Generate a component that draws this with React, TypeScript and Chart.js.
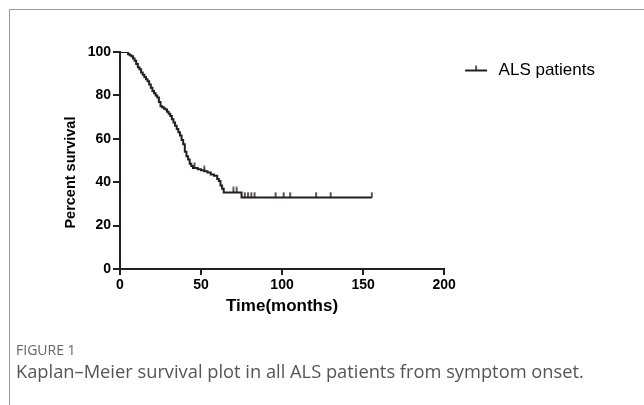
import React, { useEffect, useRef } from "react";
import { Chart, registerables } from "chart.js";

Chart.register(...registerables);

// Kaplan–Meier step curve: event times (months) and survival after each event (%)
const eventTimes = [0, 5, 6, 7, 8, 9, 10, 11, 12, 13, 14, 15, 16, 17, 18, 19, 20, 21, 22, 23, 24, 25, 26, 27, 28, 29, 30, 31, 32, 33, 34, 35, 36, 37, 38, 39, 40, 41, 42, 43, 44, 45, 48, 50, 52, 54, 56, 58, 60, 61, 62, 63, 64, 75, 155.4];
const survivalPct = [100, 99, 98.5, 98, 97, 96, 94.5, 93, 92, 90.5, 89.5, 88.5, 87.5, 86.5, 85, 83.5, 82, 81, 80, 79, 77, 75, 74.5, 74, 73.5, 72.5, 71.5, 70.5, 69, 67.5, 66, 64.5, 63, 61.5, 59.5, 57.5, 54, 52, 50.5, 48.5, 47.5, 46.5, 46, 45.5, 45, 44.5, 43.5, 43, 41.5, 40.5, 38.5, 37, 35.3, 32.9, 32.9];

// Censored observations
const censorTimes = [46, 52, 70, 72, 77, 79, 81, 83, 96, 101, 105, 121, 130, 155.4];
const censorPct = [46.5, 45, 35.3, 35.3, 32.9, 32.9, 32.9, 32.9, 32.9, 32.9, 32.9, 32.9, 32.9, 32.9];

const xTicks = [0, 50, 100, 150, 200];
const yTicks = [0, 20, 40, 60, 80, 100];
const seriesLabel = "ALS patients";
const xTitle = "Time(months)";
const yTitle = "Percent survival";

const INK = "#231f20";
const FONT = "'Liberation Sans', Arial, Helvetica, sans-serif";

function makeTickImage(): HTMLCanvasElement {
  const c = document.createElement("canvas");
  c.width = 4;
  c.height = 12;
  const g = c.getContext("2d")!;
  g.strokeStyle = INK;
  g.lineWidth = 1.5;
  g.beginPath();
  g.moveTo(2, 0.5);
  g.lineTo(2, 6);
  g.stroke();
  return c;
}

function makeLegendImage(): HTMLCanvasElement {
  const c = document.createElement("canvas");
  c.width = 36;
  c.height = 14;
  const g = c.getContext("2d")!;
  g.strokeStyle = INK;
  g.lineWidth = 2;
  g.beginPath();
  g.moveTo(11, 7);
  g.lineTo(33, 7);
  g.stroke();
  g.lineWidth = 1.5;
  g.beginPath();
  g.moveTo(22, 2);
  g.lineTo(22, 7);
  g.stroke();
  return c;
}

export default function App() {
  const ref = useRef<HTMLCanvasElement | null>(null);

  useEffect(() => {
    if (!ref.current) return;
    const tickImg = makeTickImage();
    const legendImg = makeLegendImage();
    const chart = new Chart(ref.current, {
      type: "line",
      data: {
        datasets: [
          {
            label: seriesLabel,
            data: eventTimes.map((t, i) => ({ x: t, y: survivalPct[i] })),
            stepped: true,
            borderColor: INK,
            borderWidth: 2,
            pointRadius: 0,
            fill: false,
          },
          {
            label: "censored",
            data: censorTimes.map((t, i) => ({ x: t, y: censorPct[i] })),
            showLine: false,
            pointStyle: tickImg as any,
            pointRadius: 3,
          },
        ],
      },
      options: {
        animation: false,
        responsive: false,
        layout: { padding: { left: 58, top: 52, right: 39, bottom: 9 } },
        plugins: {
          tooltip: { enabled: false },
          legend: {
            position: "right",
            align: "start",
            maxWidth: 220,
            labels: {
              usePointStyle: true,
              pointStyleWidth: 36,
              padding: 10,
              color: "#000",
              font: { family: FONT, size: 17 },
              generateLabels: () => [
                {
                  text: seriesLabel,
                  pointStyle: legendImg as any,
                  fillStyle: "rgba(0,0,0,0)",
                  strokeStyle: "rgba(0,0,0,0)",
                  lineWidth: 0,
                  datasetIndex: 0,
                  hidden: false,
                } as any,
              ],
            },
          },
        },
        scales: {
          x: {
            type: "linear",
            min: 0,
            max: 200,
            afterFit: (s: any) => {
              s.height = 52;
            },
            afterBuildTicks: (s: any) => {
              s.ticks = xTicks.map((v) => ({ value: v }));
            },
            ticks: {
              color: "#000",
              padding: 2,
              maxRotation: 0,
              font: { family: FONT, size: 14, weight: "bold" },
            },
            grid: {
              drawOnChartArea: false,
              drawTicks: true,
              tickLength: 6,
              color: INK,
              lineWidth: 2,
            },
            border: { display: true, color: INK, width: 2 },
            title: {
              display: true,
              text: xTitle,
              color: "#000",
              padding: { top: 4, bottom: 4 },
              font: { family: FONT, size: 17, weight: "bold" },
            },
          },
          y: {
            type: "linear",
            min: 0,
            max: 100,
            afterFit: (s: any) => {
              s.width = 62;
            },
            afterBuildTicks: (s: any) => {
              s.ticks = yTicks.map((v) => ({ value: v }));
            },
            ticks: {
              color: "#000",
              padding: 2,
              font: { family: FONT, size: 14, weight: "bold" },
            },
            grid: {
              drawOnChartArea: false,
              drawTicks: true,
              tickLength: 7,
              color: INK,
              lineWidth: 2,
            },
            border: { display: true, color: INK, width: 2 },
            title: {
              display: true,
              text: yTitle + "      ",
              color: "#000",
              padding: { top: 4, bottom: 4 },
              font: { family: FONT, size: 14.5, weight: "bold" },
            },
          },
        },
      },
    });
    return () => chart.destroy();
  }, []);

  return (
    <div>
      <div
        style={{
          position: "fixed",
          left: 9,
          top: 9,
          width: 800,
          height: 600,
          borderLeft: "1px solid #9a9a9a",
          borderTop: "1px solid #9a9a9a",
        }}
      />
      <canvas
        ref={ref}
        width={644}
        height={330}
        style={{ position: "fixed", left: 0, top: 0, width: 644, height: 330 }}
      />
      <div
        style={{
          position: "fixed",
          left: 16,
          top: 341,
          fontFamily: "'Open Sans', 'Noto Sans', sans-serif",
          fontSize: 14,
          color: "#666",
          lineHeight: "18px",
        }}
      >
        FIGURE 1
      </div>
      <div
        style={{
          position: "fixed",
          left: 16,
          top: 359,
          fontFamily: "'Open Sans', 'Noto Sans', sans-serif",
          fontSize: 18.3,
          color: "#555",
          lineHeight: "24px",
          whiteSpace: "nowrap",
        }}
      >
        Kaplan–Meier survival plot in all ALS patients from symptom onset.
      </div>
    </div>
  );
}
